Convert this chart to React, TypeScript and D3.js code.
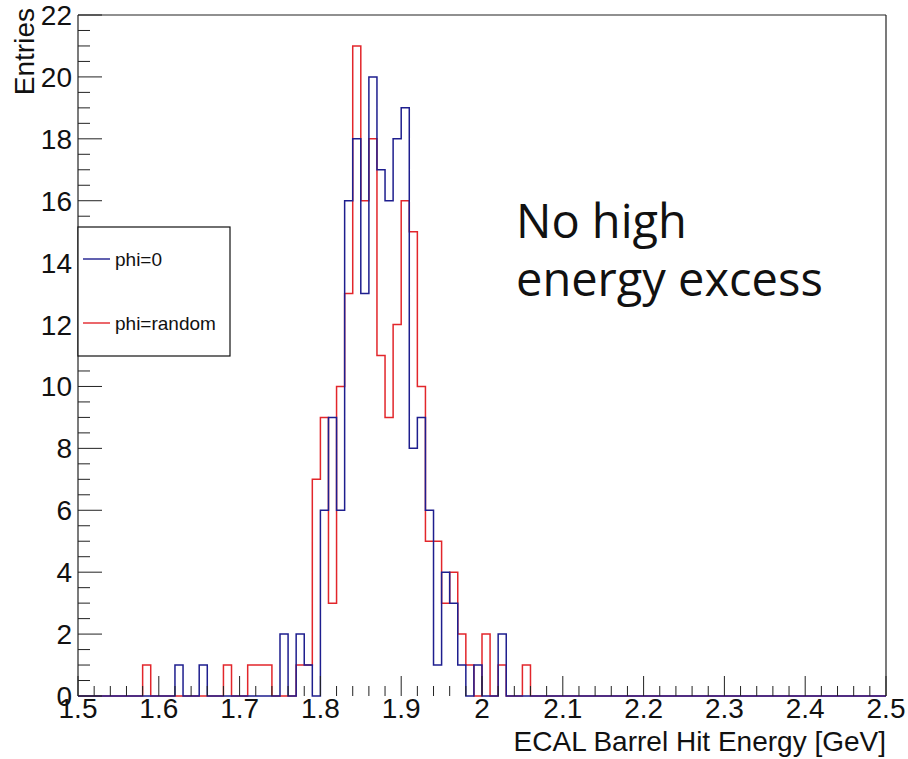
import React from "react";
import * as d3 from "d3";

// histogram binning (ROOT style TH1: 100 bins from 1.5 to 2.5 GeV)
const xMin = 1.5;
const xMax = 2.5;
const nBins = 100;

// phi=0 : lower edge of non-empty bins and their entries
const phi0Bins = [1.62, 1.65, 1.75, 1.77, 1.78, 1.80, 1.81, 1.82, 1.83, 1.84, 1.85, 1.86, 1.87, 1.88, 1.89, 1.90, 1.91, 1.92, 1.93, 1.94, 1.95, 1.96, 1.97, 1.99, 2.02];
const phi0Counts = [1, 1, 2, 2, 1, 6, 9, 6, 16, 18, 13, 20, 17, 16, 18, 19, 8, 9, 6, 1, 4, 3, 1, 1, 2];

// phi=random
const phiRandBins = [1.58, 1.68, 1.71, 1.72, 1.73, 1.77, 1.78, 1.79, 1.80, 1.81, 1.82, 1.83, 1.84, 1.85, 1.86, 1.87, 1.88, 1.89, 1.90, 1.91, 1.92, 1.93, 1.94, 1.95, 1.96, 1.97, 1.98, 2.00, 2.02, 2.05];
const phiRandCounts = [1, 1, 1, 1, 1, 1, 1, 7, 9, 3, 10, 13, 21, 16, 18, 11, 9, 12, 16, 15, 10, 5, 5, 3, 4, 2, 1, 2, 1, 1];

const legendLabels = ["phi=0", "phi=random"];
const xTitle = "ECAL Barrel Hit Energy [GeV]";
const yTitle = "Entries";
const note = ["No high", "energy excess"];

const BLUE = "#1e1e8e";
const RED = "#e2262b";
const FONT = "'Liberation Sans', Arial, Helvetica, sans-serif";

function fillBins(bins: number[], counts: number[]) {
  const h = new Array(nBins).fill(0);
  bins.forEach((b, i) => {
    h[Math.round((b - xMin) / ((xMax - xMin) / nBins))] = counts[i];
  });
  return h;
}

export default function App() {
  const width = 908, height = 759;
  const margin = { top: 15, right: 22, bottom: 63, left: 78 };

  const x = d3.scaleLinear().domain([xMin, xMax]).range([margin.left, width - margin.right]);
  const y = d3.scaleLinear().domain([0, 22]).range([height - margin.bottom, margin.top]);
  const binW = (xMax - xMin) / nBins;

  const stepPath = (h: number[]) => {
    const pts: [number, number][] = h.map((v, i) => [xMin + i * binW, v]);
    pts.push([xMax, h[h.length - 1]]);
    return d3.line<[number, number]>()
      .x(d => x(d[0]))
      .y(d => y(d[1]))
      .curve(d3.curveStepAfter)(pts) as string;
  };

  const hBlue = fillBins(phi0Bins, phi0Counts);
  const hRed = fillBins(phiRandBins, phiRandCounts);

  const y0 = y(0);
  const xMajor = d3.range(0, 11).map(i => xMin + i * 0.1);
  const xMinor = d3.range(0, 51).map(i => xMin + i * 0.02);
  const yMajor = d3.range(0, 12).map(i => i * 2);
  const yMinor = d3.range(0, 45).map(i => i * 0.5);
  const fmt = (v: number) => String(+v.toFixed(1));

  const leg = { x: 78, y: 227, w: 152, h: 129 };

  return (
    <svg width={width} height={height}
      style={{ position: "absolute", left: 0, top: 0, background: "#fff" }}
      fontFamily={FONT}>
      <rect x={0} y={0} width={width} height={height} fill="#fff" />

      {/* histograms, red under blue */}
      <path d={stepPath(hRed)} fill="none" stroke={RED} strokeWidth={1.5} />
      <path d={stepPath(hBlue)} fill="none" stroke={BLUE} strokeWidth={1.5} />

      {/* frame */}
      <line x1={x(xMin)} x2={x(xMax)} y1={y(22)} y2={y(22)} stroke="#222" strokeWidth={1.2} />
      <line x1={x(xMax)} x2={x(xMax)} y1={y(22)} y2={y0} stroke="#222" strokeWidth={1.2} />
      <line x1={x(xMin)} x2={x(xMin)} y1={y(22)} y2={y0} stroke="#222" strokeWidth={1.2} />

      {/* x ticks */}
      {xMinor.map((v, i) => (
        <line key={"xm" + i} x1={x(v)} x2={x(v)} y1={y0} y2={y0 - (i % 5 === 0 ? 20 : 10)} stroke="#222" strokeWidth={1} />
      ))}
      {xMajor.map((v, i) => (
        <text key={"xl" + i} x={x(v)} y={718} fontSize={28} textAnchor="middle" fill="#111">{fmt(v)}</text>
      ))}

      {/* y ticks */}
      {yMinor.map((v, i) => (
        <line key={"ym" + i} x1={x(xMin)} x2={x(xMin) + (i % 4 === 0 ? 24 : 12)} y1={y(v)} y2={y(v)} stroke="#222" strokeWidth={1} />
      ))}
      {yMajor.map((v, i) => (
        <text key={"yl" + i} x={72} y={y(v) + 10} fontSize={28} textAnchor="end" fill="#111">{v}</text>
      ))}

      {/* axis titles */}
      <text x={886} y={751} fontSize={28} textAnchor="end" fill="#111">{xTitle}</text>
      <text transform="translate(34,8) rotate(-90)" fontSize={28} textAnchor="end" fill="#111">{yTitle}</text>

      {/* legend */}
      <rect x={leg.x} y={leg.y} width={leg.w} height={leg.h} fill="#fff" stroke="#111" strokeWidth={1.2} />
      {legendLabels.map((lab, i) => {
        const ly = 259 + i * 64;
        return (
          <g key={lab}>
            <line x1={83} x2={110} y1={ly} y2={ly} stroke={i === 0 ? BLUE : RED} strokeWidth={1.4} />
            <text x={115} y={ly + 6.5} fontSize={19} fill="#111">{lab}</text>
          </g>
        );
      })}

      {/* annotation */}
      {note.map((t, i) => (
        <text key={t} x={516} y={238 + i * 58} fontSize={47} fontFamily="'Open Sans', sans-serif" fill="#111">{t}</text>
      ))}
    </svg>
  );
}
